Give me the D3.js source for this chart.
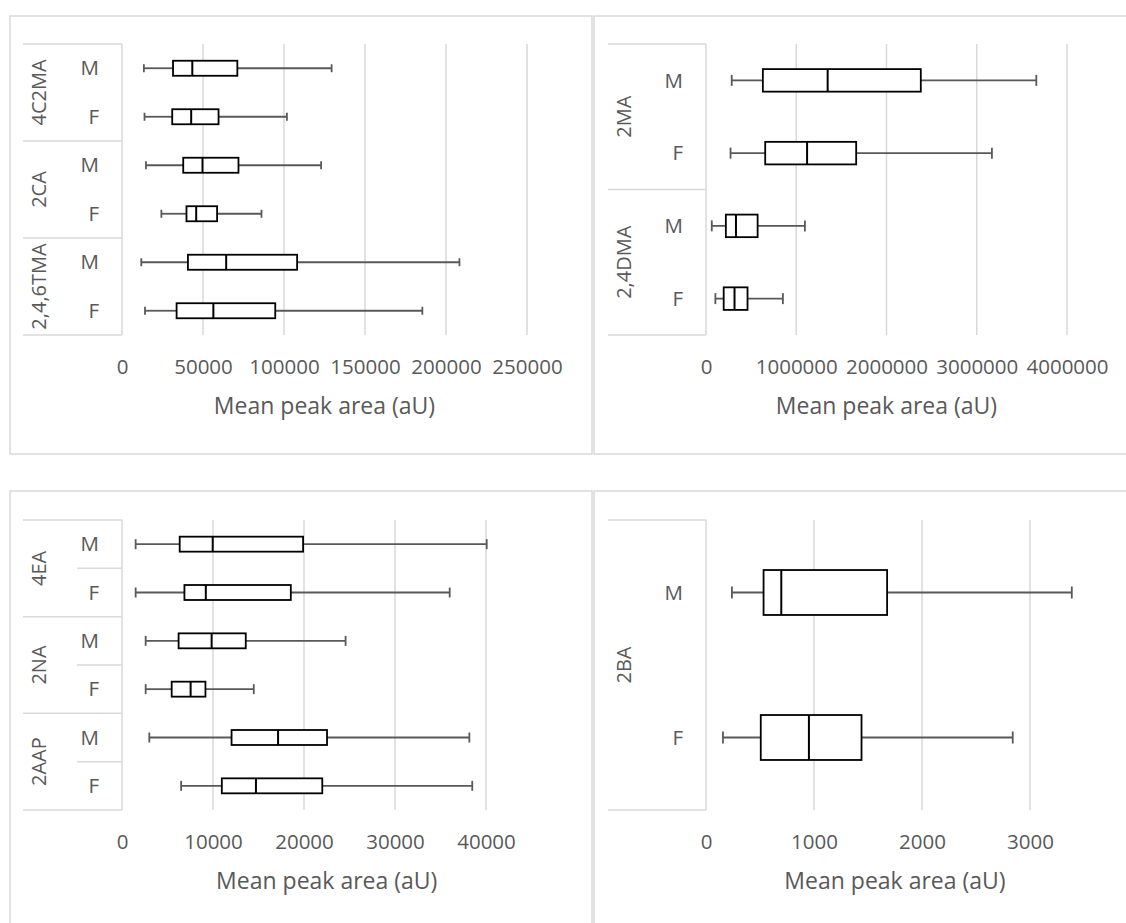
<!DOCTYPE html>
<html>
<head>
<meta charset="utf-8">
<script src="https://cdn.jsdelivr.net/npm/d3@7"></script>
<style>
  body { margin: 0; background: #fff; }
  svg { display: block; font-family: "Open Sans", sans-serif; }
</style>
</head>
<body>
<svg id="chart" width="1126" height="923"></svg>
<script>
// rows go M, F inside each group, groups top to bottom
var sexes = ["M", "F"];

var p1Groups = ["4C2MA", "2CA", "2,4,6TMA"];
var p1Min = [13500, 13900, 14800, 24300, 11900, 14200];
var p1Q1  = [31500, 31000, 37800, 39800, 40700, 33700];
var p1Med = [43400, 42700, 49700, 45800, 64300, 56400];
var p1Q3  = [71200, 59600, 71900, 58700, 108100, 94600];
var p1Max = [129400, 101800, 122900, 86100, 208300, 185400];
var p1Ticks = [0, 50000, 100000, 150000, 200000, 250000];

var p2Groups = ["2MA", "2,4DMA"];
var p2Min = [285000, 272000, 64000, 104000];
var p2Q1  = [630000, 656000, 220000, 196000];
var p2Med = [1348000, 1120000, 332000, 316000];
var p2Q3  = [2380000, 1664000, 572000, 460000];
var p2Max = [3660000, 3168000, 1096000, 852000];
var p2Ticks = [0, 1000000, 2000000, 3000000, 4000000];

var p3Groups = ["4EA", "2NA", "2AAP"];
var p3Min = [1500, 1500, 2600, 2600, 3000, 6500];
var p3Q1  = [6340, 6860, 6220, 5460, 12040, 10970];
var p3Med = [9970, 9210, 9850, 7540, 17150, 14720];
var p3Q3  = [19900, 18550, 13600, 9170, 22530, 22010];
var p3Max = [40080, 36010, 24570, 14480, 38170, 38490];
var p3Ticks = [0, 10000, 20000, 30000, 40000];

var p4Groups = ["2BA"];
var p4Min = [240, 157];
var p4Q1  = [533, 507];
var p4Med = [697, 953];
var p4Q3  = [1677, 1440];
var p4Max = [3387, 2840];
var p4Ticks = [0, 1000, 2000, 3000];

var svg = d3.select("#chart");
var txt = "#595959", light = "#d9d9d9";

function drawPanel(p) {
  var g = svg.append("g");

  // outer chart border
  g.append("rect")
    .attr("x", p.bx0).attr("y", p.by0)
    .attr("width", p.bx1 - p.bx0).attr("height", p.by1 - p.by0)
    .attr("fill", "none").attr("stroke", light).attr("stroke-width", 1.5);

  var x = d3.scaleLinear().domain([0, p.xMax]).range([p.left, p.right]);

  var rows = [];
  p.groups.forEach(function (grp, gi) {
    sexes.forEach(function (s, si) {
      var i = gi * 2 + si;
      rows.push({ id: i, group: grp, sex: s, min: p.min[i], q1: p.q1[i], med: p.med[i], q3: p.q3[i], max: p.max[i] });
    });
  });

  var y = d3.scaleBand().domain(rows.map(function (r) { return r.id; })).range([p.top, p.bottom]);
  var bw = y.bandwidth();
  var boxH = bw * 0.31;

  // gridlines
  g.selectAll(".grid").data(p.ticks.filter(function (t) { return t > 0; }))
    .enter().append("line")
    .attr("x1", function (d) { return x(d); }).attr("x2", function (d) { return x(d); })
    .attr("y1", p.top).attr("y2", p.bottom)
    .attr("stroke", light).attr("stroke-width", 1.5);

  // tick labels
  var ax = g.append("g").attr("transform", "translate(0," + (p.bottom + 20) + ")")
    .call(d3.axisBottom(x).tickValues(p.ticks).tickSize(0).tickFormat(d3.format("d")));
  ax.select(".domain").remove();
  ax.selectAll("text").attr("fill", txt).style("font-size", "20.5px")
    .style("font-family", "'Open Sans', sans-serif").attr("dy", "0.32em").attr("y", 12);

  // axis title
  g.append("text")
    .attr("x", (p.left + p.right) / 2).attr("y", p.bottom + 71)
    .attr("text-anchor", "middle").attr("dy", "0.35em")
    .attr("fill", txt).style("font-size", "23px")
    .text("Mean peak area (aU)");

  // category axis lines
  var gh = bw * 2;
  var catLines = d3.range(p.groups.length + 1).map(function (k) { return p.top + k * gh; });
  g.selectAll(".cat").data(catLines).enter().append("line")
    .attr("x1", p.catLeft).attr("x2", p.left)
    .attr("y1", function (d) { return d; }).attr("y2", function (d) { return d; })
    .attr("stroke", light).attr("stroke-width", 1.5);
  if (p.innerLines) {
    g.selectAll(".inner").data(p.groups).enter().append("line")
      .attr("x1", p.catLeft + 54).attr("x2", p.left)
      .attr("y1", function (d, k) { return p.top + k * gh + bw; })
      .attr("y2", function (d, k) { return p.top + k * gh + bw; })
      .attr("stroke", light).attr("stroke-width", 1.5);
  }
  g.append("line")
    .attr("x1", p.left).attr("x2", p.left).attr("y1", p.top).attr("y2", p.bottom)
    .attr("stroke", light).attr("stroke-width", 1.5);

  // group labels
  g.selectAll(".glab").data(p.groups).enter().append("text")
    .attr("transform", function (d, k) {
      return "translate(" + (p.catLeft + 16) + "," + (p.top + k * gh + gh / 2) + ") rotate(-90)";
    })
    .attr("text-anchor", "middle").attr("dy", "0.35em")
    .attr("fill", txt).style("font-size", "20px")
    .text(function (d) { return d; });

  // M / F labels
  g.selectAll(".slab").data(rows).enter().append("text")
    .attr("x", p.left - 23).attr("y", function (d) { return y(d.id) + bw / 2; })
    .attr("text-anchor", "end").attr("dy", "0.35em")
    .attr("fill", txt).style("font-size", "20.5px")
    .text(function (d) { return d.sex; });

  // boxes
  var b = g.selectAll(".box").data(rows).enter().append("g");
  b.each(function (d) {
    var s = d3.select(this), cy = y(d.id) + bw / 2;
    s.append("line").attr("x1", x(d.min)).attr("x2", x(d.q1)).attr("y1", cy).attr("y2", cy)
      .attr("stroke", txt).attr("stroke-width", 1.8);
    s.append("line").attr("x1", x(d.q3)).attr("x2", x(d.max)).attr("y1", cy).attr("y2", cy)
      .attr("stroke", txt).attr("stroke-width", 1.8);
    [d.min, d.max].forEach(function (v) {
      s.append("line").attr("x1", x(v)).attr("x2", x(v))
        .attr("y1", cy - p.cap / 2).attr("y2", cy + p.cap / 2)
        .attr("stroke", txt).attr("stroke-width", 1.8);
    });
    s.append("rect").attr("x", x(d.q1)).attr("y", cy - boxH / 2)
      .attr("width", x(d.q3) - x(d.q1)).attr("height", boxH)
      .attr("fill", "#fff").attr("stroke", "#000").attr("stroke-width", 1.8);
    s.append("line").attr("x1", x(d.med)).attr("x2", x(d.med))
      .attr("y1", cy - boxH / 2).attr("y2", cy + boxH / 2)
      .attr("stroke", "#000").attr("stroke-width", 2);
  });
}

drawPanel({ bx0: 10, by0: 16, bx1: 592, by1: 454, catLeft: 23, left: 122, right: 527, top: 44, bottom: 335,
  xMax: 250000, ticks: p1Ticks, groups: p1Groups, min: p1Min, q1: p1Q1, med: p1Med, q3: p1Q3, max: p1Max, cap: 8 });
drawPanel({ bx0: 594, by0: 16, bx1: 1140, by1: 454, catLeft: 608, left: 706, right: 1067, top: 44, bottom: 335,
  xMax: 4000000, ticks: p2Ticks, groups: p2Groups, min: p2Min, q1: p2Q1, med: p2Med, q3: p2Q3, max: p2Max, cap: 11 });
drawPanel({ bx0: 10, by0: 491, bx1: 592, by1: 940, catLeft: 23, left: 122, right: 531.5, top: 520, bottom: 810,
  xMax: 45000, ticks: p3Ticks, groups: p3Groups, min: p3Min, q1: p3Q1, med: p3Med, q3: p3Q3, max: p3Max, cap: 10, innerLines: true });
drawPanel({ bx0: 594, by0: 491, bx1: 1140, by1: 940, catLeft: 608, left: 706, right: 1084, top: 520, bottom: 810,
  xMax: 3500, ticks: p4Ticks, groups: p4Groups, min: p4Min, q1: p4Q1, med: p4Med, q3: p4Q3, max: p4Max, cap: 12 });
</script>
</body>
</html>
